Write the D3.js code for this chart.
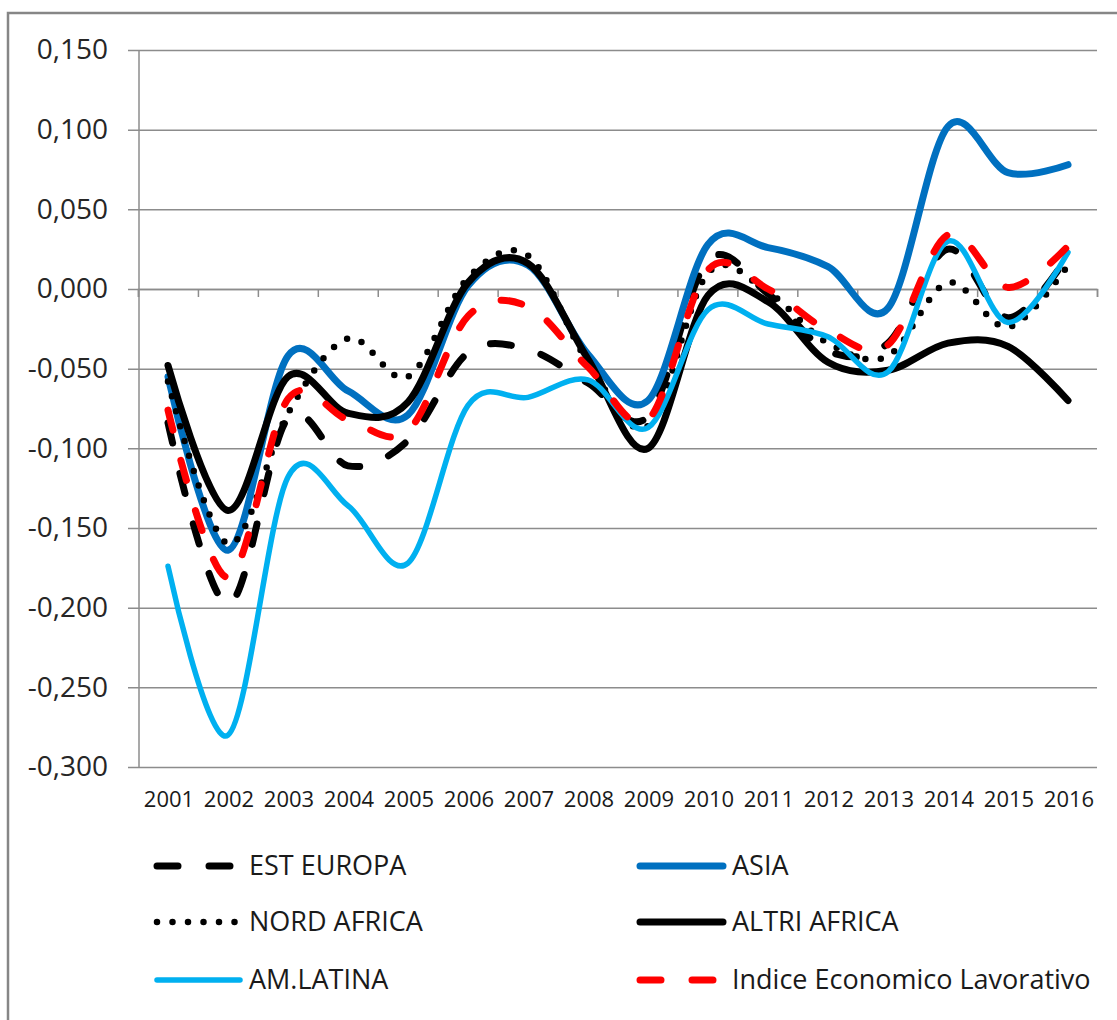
<!DOCTYPE html>
<html>
<head>
<meta charset="utf-8">
<script src="https://cdn.jsdelivr.net/npm/d3@7"></script>
<style>
  body { margin: 0; background: #fff; }
  svg { display: block; font-family: "Open Sans", sans-serif; }
</style>
</head>
<body>
<svg></svg>
<script>
const width = 1117;
const height = 1020;

// data
const years = ['2001','2002','2003','2004','2005','2006','2007','2008','2009','2010','2011','2012','2013','2014','2015','2016'];
const estEuropa  = [-0.084, -0.198, -0.081, -0.111, -0.095, -0.040, -0.038, -0.059, -0.080, 0.018, -0.003, -0.039, -0.034, 0.025, -0.018, 0.021];
const asia       = [-0.055, -0.164, -0.042, -0.064, -0.079, 0.002, 0.015, -0.041, -0.070, 0.028, 0.026, 0.014, -0.012, 0.102, 0.073, 0.078];
const nordAfrica = [-0.058, -0.160, -0.078, -0.031, -0.055, 0.007, 0.021, -0.046, -0.086, 0.010, -0.002, -0.034, -0.042, 0.004, -0.024, 0.015];
const altriAfrica= [-0.048, -0.139, -0.055, -0.078, -0.071, 0.004, 0.016, -0.044, -0.100, -0.004, -0.008, -0.046, -0.051, -0.034, -0.036, -0.070];
const amLatina   = [-0.174, -0.280, -0.118, -0.136, -0.172, -0.073, -0.068, -0.057, -0.087, -0.013, -0.022, -0.030, -0.052, 0.030, -0.021, 0.023];
const indice     = [-0.076, -0.181, -0.069, -0.082, -0.089, -0.017, -0.011, -0.049, -0.082, 0.012, 0.000, -0.026, -0.035, 0.034, 0.001, 0.027];
const yTicks = [-0.300, -0.250, -0.200, -0.150, -0.100, -0.050, 0.000, 0.050, 0.100, 0.150];

const series = [
  {name: 'EST EUROPA', values: estEuropa, color: '#000000', width: 7, dash: '21 31'},
  {name: 'ASIA', values: asia, color: '#0070C0', width: 7, dash: null},
  {name: 'NORD AFRICA', values: nordAfrica, color: '#000000', width: 6.5, dash: '0 15.5'},
  {name: 'ALTRI AFRICA', values: altriAfrica, color: '#000000', width: 7, dash: null},
  {name: 'AM.LATINA', values: amLatina, color: '#00B0F0', width: 5.5, dash: null},
  {name: 'Indice Economico Lavorativo', values: indice, color: '#FF0000', width: 7, dash: '21 31'}
];

const plotLeft = 138, plotRight = 1098, plotTop = 50, plotBottom = 767;
const gridColor = '#8c8c8c';

const svg = d3.select('svg').attr('width', width).attr('height', height);

svg.append('rect').attr('width', width).attr('height', height).attr('fill', '#fff');
// outer chart border
svg.append('rect')
   .attr('x', 8).attr('y', 13)
   .attr('width', 1200).attr('height', 1100)
   .attr('fill', 'none').attr('stroke', '#868686').attr('stroke-width', 2.5);

//Scales
const xScale = d3.scaleBand().domain(years).range([plotLeft, plotRight]);
const xEdge = d3.scaleLinear().domain([0, years.length]).range([plotLeft, plotRight - 1]);
const yScale = d3.scaleLinear().domain([-0.3, 0.15]).range([plotBottom, plotTop]);

const locale = d3.formatLocale({decimal: ',', thousands: '.', grouping: [3], currency: ['', ''], minus: '-'});
const fmt = locale.format('.3f');

//Grid + y labels
const yAxis = d3.axisLeft(yScale)
                .tickValues(yTicks)
                .tickSize(-(plotRight - 1 - 128))
                .tickPadding(20)
                .tickFormat(fmt);
const yg = svg.append('g').attr('transform', 'translate(128,0)').call(yAxis);
yg.select('.domain').remove();
yg.selectAll('line').attr('stroke', gridColor).attr('stroke-width', 1.5);
yg.selectAll('text')
  .attr('fill', '#262626')
  .style('font-size', '28px')
  .style('font-family', '"Open Sans", sans-serif');

svg.append('line')
   .attr('x1', plotLeft + 1).attr('x2', plotLeft + 1)
   .attr('y1', plotTop).attr('y2', plotBottom)
   .attr('stroke', gridColor).attr('stroke-width', 1.5);

//x axis at zero, ticks between categories
const xAxis = d3.axisBottom(xEdge)
                .tickValues(d3.range(0, years.length + 1))
                .tickSize(8)
                .tickFormat('');
const xg = svg.append('g').attr('transform', `translate(0,${yScale(0)})`).call(xAxis);
xg.select('.domain').attr('stroke', gridColor).attr('stroke-width', 1.5);
xg.selectAll('line').attr('stroke', gridColor).attr('stroke-width', 1.5);

//category labels at the bottom
const labelAxis = d3.axisBottom(xScale).tickSize(0).tickPadding(0);
const lg = svg.append('g').attr('transform', 'translate(0,790)').call(labelAxis);
lg.select('.domain').remove();
lg.selectAll('text')
  .attr('fill', '#1a1a1a')
  .attr('dy', '0.75em')
  .attr('y', 0)
  .attr('dx', 1)
  .style('font-size', '22px')
  .style('font-family', '"Open Sans", sans-serif');

//Lines
const line = d3.line()
               .x((d, i) => xScale(years[i]) + xScale.bandwidth() / 2)
               .y(d => yScale(d))
               .curve(d3.curveCardinal.tension(0));

svg.append('g')
   .selectAll('path')
   .data(series)
   .enter()
   .append('path')
      .attr('d', d => line(d.values))
      .attr('fill', 'none')
      .attr('stroke', d => d.color)
      .attr('stroke-width', d => d.width)
      .attr('stroke-linecap', 'round')
      .attr('stroke-linejoin', 'round')
      .attr('stroke-dasharray', d => d.dash);

//Legend
const legendPos = [
  {x: 157, y: 866}, {x: 640, y: 866},
  {x: 157, y: 922}, {x: 640, y: 922},
  {x: 157, y: 980}, {x: 640, y: 980}
];
const legend = svg.append('g')
                  .selectAll('g')
                  .data(series)
                  .enter()
                  .append('g')
                  .attr('transform', (d, i) => `translate(${legendPos[i].x},${legendPos[i].y})`);

legend.append('line')
      .attr('x1', 0).attr('x2', 83)
      .attr('y1', 0).attr('y2', 0)
      .attr('stroke', d => d.color)
      .attr('stroke-width', d => d.width)
      .attr('stroke-linecap', 'round')
      .attr('stroke-dasharray', d => d.dash);

legend.append('text')
      .attr('x', 92)
      .attr('y', 9)
      .attr('fill', '#1a1a1a')
      .style('font-size', '27px')
      .text(d => d.name);
</script>
</body>
</html>
